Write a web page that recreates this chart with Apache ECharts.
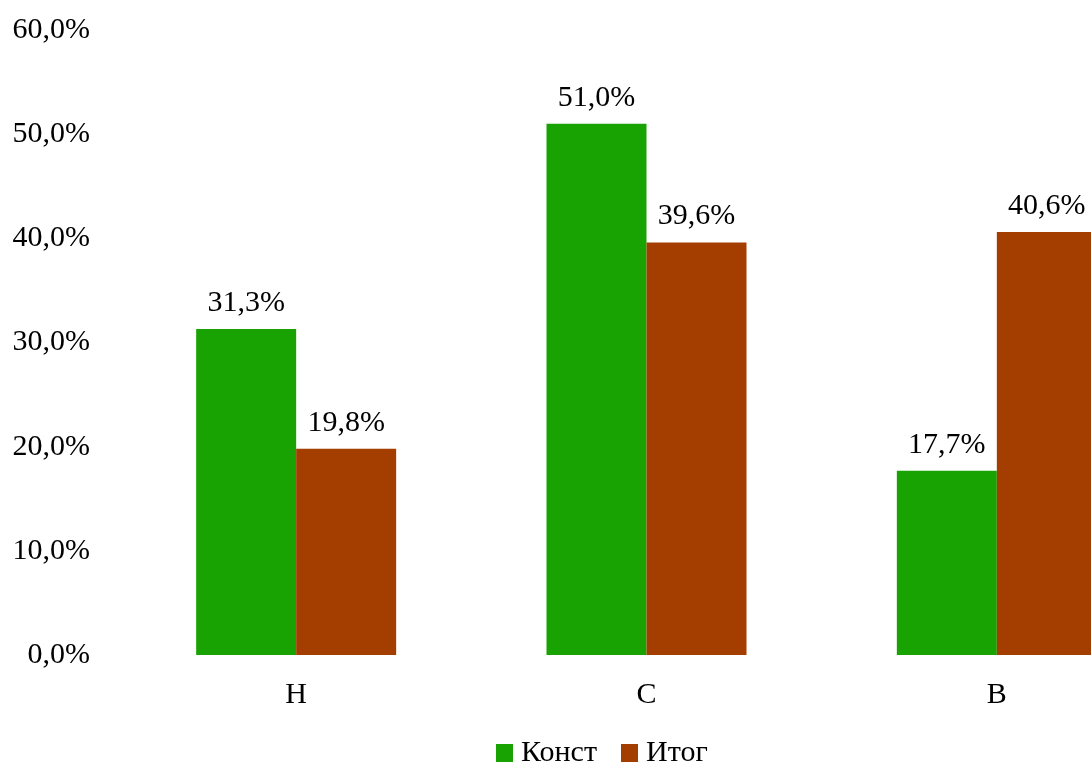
<!DOCTYPE html>
<html>
<head>
<meta charset="utf-8">
<script src="https://cdn.jsdelivr.net/npm/echarts@6/dist/echarts.min.js"></script>
<style>
  html, body { margin: 0; padding: 0; background: #fff; }
  #main { width: 1091px; height: 767px; }
</style>
</head>
<body>
<div id="main"></div>
<script>
var categories = ['Н', 'С', 'В'];
var seriesNames = ['Конст', 'Итог'];
var konst = [31.3, 51.0, 17.7];
var itog = [19.8, 39.6, 40.6];
var colors = ['#19a303', '#a33e00'];

var font = '"Liberation Serif", "Times New Roman", serif';
function pct(v) { return v.toFixed(1).replace('.', ',') + '%'; }

var myChart = echarts.init(document.getElementById('main'));

function makeSeries(name, data, color) {
    return {
        name: name,
        type: 'bar',
        data: data,
        barWidth: 100,
        barGap: '0%',
        itemStyle: { color: color },
        label: {
            show: true,
            position: 'top',
            distance: 11,
            color: '#000',
            fontFamily: font,
            fontSize: 30,
            formatter: function (p) { return pct(p.value); }
        }
    };
}

var option = {
    animation: false,
    textStyle: { fontFamily: font },
    // plot area runs past the right edge of the canvas, as in the source
    grid: { left: 121, right: -81, top: 30, bottom: 112, containLabel: false, outerBoundsMode: 'none' },
    legend: {
        bottom: -6,
        left: 491,
        itemWidth: 17,
        itemHeight: 18,
        itemGap: 24,
        icon: 'rect',
        textStyle: { fontFamily: font, fontSize: 30, color: '#000', padding: [0, 0, 0, 3] },
        data: seriesNames
    },
    xAxis: {
        type: 'category',
        data: categories,
        axisLine: { show: false },
        axisTick: { show: false },
        axisLabel: { margin: 25, fontFamily: font, fontSize: 30, color: '#000' }
    },
    yAxis: {
        type: 'value',
        min: 0,
        max: 60,
        interval: 10,
        splitLine: { show: false },
        axisLine: { show: false },
        axisTick: { show: false },
        axisLabel: {
            margin: 31,
            fontFamily: font,
            fontSize: 30,
            color: '#000',
            formatter: function (v) { return pct(v); }
        }
    },
    series: [
        makeSeries(seriesNames[0], konst, colors[0]),
        makeSeries(seriesNames[1], itog, colors[1])
    ]
};
myChart.setOption(option);
</script>
</body>
</html>
